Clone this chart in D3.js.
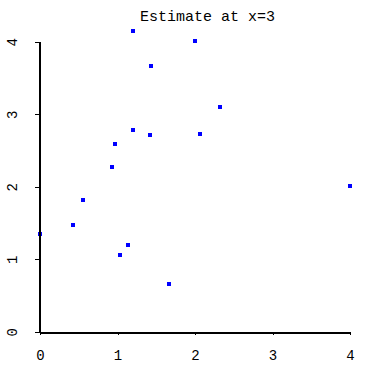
<!DOCTYPE html>
<html><head><meta charset="utf-8">
<script src="https://cdn.jsdelivr.net/npm/d3@7"></script>
<style>body{margin:0;background:#fff}svg{display:block}</style>
</head><body>
<script>
const titleText = "Estimate at x=3";
const xValues = [1.20, 2.00, 1.43, 2.32, 1.20, 1.42, 2.06, 0.97, 0.93, 4.00, 0.55, 0.43, 1.14, 1.03, 1.66, 0.00];
const yValues = [4.15, 4.01, 3.67, 3.10, 2.78, 2.71, 2.73, 2.59, 2.27, 2.01, 1.82, 1.47, 1.20, 1.06, 0.66, 1.35];
const xTicks = [0, 1, 2, 3, 4];
const yTicks = [0, 1, 2, 3, 4];

const W = 374, H = 369;
const svg = d3.select("body").append("svg").attr("width", W).attr("height", H)
  .attr("shape-rendering", "crispEdges");
const x = d3.scaleLinear().domain([0, 4]).range([40, 350]);
const y = d3.scaleLinear().domain([0, 4]).range([331.7, 41.7]);
const font = "'Liberation Mono', monospace";

svg.append("text").attr("x", 207.5).attr("y", 21).attr("text-anchor", "middle")
  .attr("font-family", font).attr("font-size", 15).attr("fill", "#000").text(titleText);

// points
svg.append("g").selectAll("rect").data(xValues.map((v, i) => [v, yValues[i]])).join("rect")
  .attr("x", d => Math.round(x(d[0])) - 2).attr("y", d => Math.round(y(d[1])) - 2)
  .attr("width", 4).attr("height", 4).attr("fill", "#0000ff");

// y axis
const gy = svg.append("g").attr("transform", "translate(39.5,0)")
  .call(d3.axisLeft(y).tickValues(yTicks).tickSize(5).tickSizeOuter(0).tickFormat(d3.format("d")));
gy.select(".domain").attr("stroke-width", 2).attr("d", `M0,${y(4)}V${y(0) + 1}`);
gy.selectAll(".tick line").attr("stroke-width", 1);
gy.selectAll(".tick text").attr("transform", "rotate(-90)").attr("x", 0).attr("y", -27)
  .attr("dy", "0.35em").attr("text-anchor", "middle")
  .attr("font-family", font).attr("font-size", 14).attr("fill", "#000");

// x axis
const gx = svg.append("g").attr("transform", "translate(0,332)")
  .call(d3.axisBottom(x).tickValues(xTicks).tickSize(3).tickSizeOuter(0).tickFormat(d3.format("d")));
gx.select(".domain").attr("stroke-width", 2);
gx.selectAll(".tick line").attr("stroke-width", 1);
gx.selectAll(".tick text").attr("y", 23).attr("dy", "0.35em")
  .attr("font-family", font).attr("font-size", 14).attr("fill", "#000");
</script>
</body></html>
